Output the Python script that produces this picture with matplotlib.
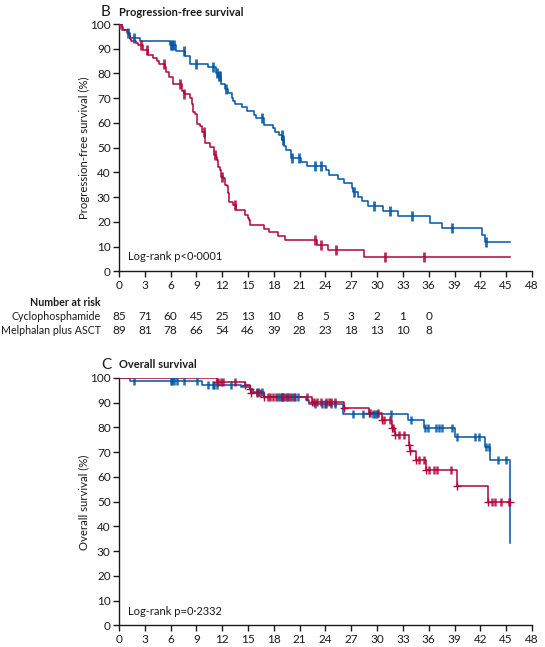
import numpy as np
import matplotlib
matplotlib.use("Agg")
import matplotlib.pyplot as plt
import matplotlib.transforms as mtransforms

plt.rcParams["font.family"] = ["Lato", "DejaVu Sans"]

BLUE = "#0055a5"
RED = "#b0063a"
TXT = "#1a1a1a"

# ---- Progression-free survival (panel B) ----
# Melphalan plus ASCT (blue): event times (months) and survival (%) after each drop
pfs_mel_t = [0, 0.3, 0.9, 1.3, 2.4, 5.9, 6.6, 7.7, 8.2, 10.4, 11.3, 11.55, 11.9, 12.3,
             12.7, 13.1, 13.3, 13.5, 14.3, 14.85, 15.7, 15.9, 16.8, 17.9, 18.1, 18.6,
             19.0, 19.2, 19.45, 19.95, 21.2, 21.8, 24.1, 24.4, 25.5, 26.2, 27.05, 27.25,
             27.8, 28.25, 28.9, 30.65, 32.4, 36.1, 37.6, 42.2, 42.5, 45.4]
pfs_mel_s = [100, 97.7, 96.4, 94.3, 93.0, 91.5, 88.9, 87.0, 83.8, 82.5, 80.1, 79.0, 75.6, 73.6,
             72.0, 70.2, 68.8, 67.6, 66.3, 64.7, 63.3, 61.9, 59.2, 57.9, 56.2, 55.0,
             53.1, 50.7, 49.0, 45.8, 44.2, 42.5, 40.9, 38.9, 37.3, 35.6, 33.6, 32.0,
             30.2, 28.4, 26.5, 24.4, 22.3, 19.7, 17.5, 14.6, 11.8, 11.8]
pfs_mel_cens = [1.08, 1.74, 6.0, 6.2, 6.4, 7.6, 9.0, 10.9, 11.45, 11.6, 11.75, 12.4, 16.6,
                18.9, 19.1, 20.1, 20.9, 22.75, 23.45, 27.3, 29.6, 31.5, 34.0, 38.75, 42.7]

# Cyclophosphamide (red)
pfs_cyc_t = [0, 0.3, 0.5, 1.0, 1.2, 1.3, 1.45, 1.95, 2.2, 2.8, 3.4, 3.9, 4.4, 4.7, 5.35,
             5.46, 5.8, 6.3, 7.3, 7.5, 8.2, 8.5, 8.6, 8.8, 9.1, 9.4, 9.6, 9.7, 10.0, 10.6,
             11.0, 11.1, 11.3, 11.4, 11.55, 11.7, 11.8, 12.1, 12.3, 12.5, 12.7, 12.8,
             13.3, 13.6, 14.7, 14.95, 15.1, 15.2, 16.8, 17.4, 18.5, 19.3, 23.0, 24.3,
             28.45, 45.4]
pfs_cyc_s = [100, 98.8, 97.7, 96.4, 95.4, 94.1, 93.0, 92.3, 91.4, 89.6, 87.6, 86.3, 85.2,
             83.8, 82.7, 80.7, 78.7, 75.8, 73.1, 71.7, 70.0, 67.7, 64.6, 63.6, 59.5, 58.9,
             57.8, 56.5, 52.0, 50.2, 48.4, 47.1, 46.1, 45.1, 42.3, 41.0, 38.3, 37.7, 35.0,
             34.5, 31.8, 28.2, 26.9, 24.8, 22.8, 21.7, 20.8, 18.8, 17.2, 15.8, 14.2, 12.6,
             10.7, 8.6, 5.7, 5.7]
pfs_cyc_cens = [0.05, 2.6, 3.3, 5.2, 7.1, 7.5, 9.9, 11.15, 12.0, 13.45, 22.8, 23.45, 25.2,
                30.9, 35.5]

# ---- Overall survival (panel C) ----
os_mel_t = [0, 1.28, 9.6, 14.2, 15.2, 15.6, 16.8, 21.7, 22.1, 26.0, 33.6, 35.4, 39.0,
            42.5, 43.1, 45.4]
os_mel_s = [100, 98.6, 97.3, 96.4, 95.6, 94.3, 92.4, 90.9, 89.3, 85.3, 82.8, 79.9, 76.3,
            72.1, 67.0, 33.4]
os_mel_cens = [1.7, 6.0, 6.2, 6.4, 6.8, 7.6, 9.07, 10.4, 10.9, 11.05, 11.4, 13.0, 16.0,
               16.2, 16.6, 18.5, 18.7, 18.9, 19.3, 19.6, 20.1, 20.5, 20.85, 22.8, 23.6,
               23.9, 24.1, 24.7, 25.1, 27.2, 28.4, 29.5, 29.7, 30.0, 31.6, 33.95, 35.6,
               35.9, 36.9, 37.2, 37.6, 38.75, 39.3, 41.4, 41.9, 42.6, 43.0, 44.0, 45.0]

os_cyc_t = [0, 11.35, 14.6, 15.2, 15.4, 16.8, 22.4, 26.2, 29.1, 30.55, 31.7, 32.1, 33.75,
            33.85, 34.5, 35.7, 39.3, 42.9, 45.4]
os_cyc_s = [100, 98.4, 97.0, 95.4, 93.9, 92.3, 90.1, 88.0, 85.6, 82.9, 79.9, 77.1, 72.9,
            70.3, 66.7, 62.7, 56.5, 50.0, 50.0]
os_cyc_cens = [11.5, 11.8, 12.1, 13.5, 16.0, 16.4, 17.3, 17.6, 17.9, 18.3, 18.9, 19.1,
               19.5, 19.9, 20.3, 21.8, 22.7, 23.0, 23.5, 24.1, 24.4, 24.7, 25.1, 29.2,
               30.15, 30.8, 31.5, 31.9, 32.5, 33.1, 34.85, 35.5, 36.0, 36.6, 37.0, 38.6,
               43.4, 43.7, 44.4, 45.3]

# Number at risk (every 3 months)
risk_times = [0, 3, 6, 9, 12, 15, 18, 21, 24, 27, 30, 33, 36]
risk_cyc = [85, 71, 60, 45, 25, 13, 10, 8, 5, 3, 2, 1, 0]
risk_mel = [89, 81, 78, 66, 54, 46, 39, 28, 23, 18, 13, 10, 8]


def surv_at(times, surv, t):
    idx = np.searchsorted(np.array(times), t, side="right") - 1
    return np.array(surv)[idx]


def draw_curve(ax, times, surv, cens, color, ms=7, mew=2.0):
    ax.step(times, surv, where="post", color=color, lw=1.1, zorder=3)
    cy = [surv_at(times, surv, c) for c in cens]
    ax.plot(cens, cy, ls="none", marker="|", ms=ms, mew=mew, color=color,
            alpha=0.85, zorder=4)


def style_axis(ax):
    ax.set_xlim(0, 48)
    ax.set_ylim(0, 100)
    ax.set_xticks(np.arange(0, 49, 3))
    ax.set_yticks(np.arange(0, 101, 10))
    for s in ["top", "right"]:
        ax.spines[s].set_visible(False)
    for s in ["left", "bottom"]:
        ax.spines[s].set_linewidth(1.0)
        ax.spines[s].set_color(TXT)
    ax.tick_params(direction="out", length=4, width=1.0, labelsize=8.5,
                   colors=TXT, pad=2)
    ax.patch.set_alpha(0)


fig = plt.figure(figsize=(5.45, 6.47), dpi=100)
ax1 = fig.add_axes([0.2183, 0.5804, 0.7578, 0.3825])
ax2 = fig.add_axes([0.2183, 0.0335, 0.7578, 0.3825])

# Panel B
draw_curve(ax1, pfs_mel_t, pfs_mel_s, pfs_mel_cens, BLUE)
draw_curve(ax1, pfs_cyc_t, pfs_cyc_s, pfs_cyc_cens, RED)
style_axis(ax1)
ax1.text(1.0, 6, "Log-rank p<0·0001", fontsize=8, color=TXT, va="center")

# Panel C
draw_curve(ax2, os_mel_t, os_mel_s, os_mel_cens, BLUE, ms=6, mew=1.8)
draw_curve(ax2, os_cyc_t, os_cyc_s, os_cyc_cens, RED, ms=6, mew=1.8)
# crosses on red events
ev_t = os_cyc_t[1:]
ev_s = os_cyc_s[1:]
ax2.plot(ev_t, ev_s, ls="none", marker="+", ms=6, mew=1.0, color=RED, zorder=5)
style_axis(ax2)
ax2.text(1.0, 5.5, "Log-rank p=0·2332", fontsize=8, color=TXT, va="center")

# Titles
fig.text(101 / 545, 1 - 12 / 647, "B", fontsize=11, color=TXT, va="center")
fig.text(119 / 545, 1 - 12 / 647, "Progression-free survival", fontsize=8,
         fontweight="bold", color=TXT, va="center")
fig.text(101 / 545, 1 - 365 / 647, "C", fontsize=11, color=TXT, va="center")
fig.text(119 / 545, 1 - 365 / 647, "Overall survival", fontsize=8,
         fontweight="bold", color=TXT, va="center")

# Y labels
fig.text(84 / 545, 1 - 148 / 647, "Progression-free survival (%)", rotation=90,
         fontsize=8.2, color=TXT, ha="center", va="center")
fig.text(84 / 545, 1 - 502 / 647, "Overall survival (%)", rotation=90,
         fontsize=8.2, color=TXT, ha="center", va="center")

# Number at risk table
trans = mtransforms.blended_transform_factory(ax1.transData, fig.transFigure)
fig.text(101 / 545, 1 - 303 / 647, "Number at risk", fontsize=7.7, fontweight="bold",
         color=TXT, ha="right", va="center")
fig.text(101 / 545, 1 - 317 / 647, "Cyclophosphamide", fontsize=7.7,
         color=TXT, ha="right", va="center")
fig.text(101 / 545, 1 - 331 / 647, "Melphalan plus ASCT", fontsize=7.7,
         color=TXT, ha="right", va="center")
for t, a, b in zip(risk_times, risk_cyc, risk_mel):
    ax1.text(t, 1 - 317 / 647, str(a), transform=trans, fontsize=8.5, color=TXT,
             ha="center", va="center", clip_on=False)
    ax1.text(t, 1 - 331 / 647, str(b), transform=trans, fontsize=8.5, color=TXT,
             ha="center", va="center", clip_on=False)

fig.savefig("out.png", dpi=100)
